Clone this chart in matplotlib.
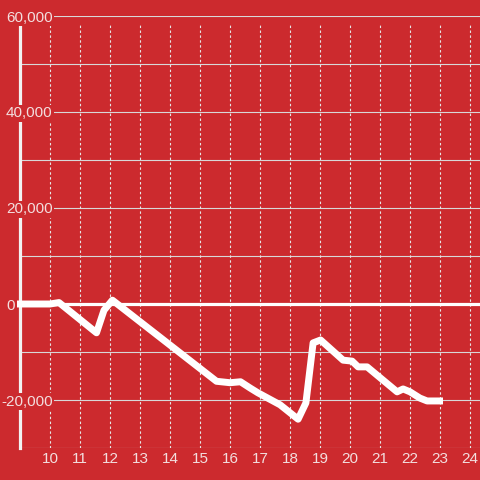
import matplotlib
matplotlib.use("Agg")
import matplotlib.pyplot as plt

# ---- data ----
hours = [8.9, 10.0, 10.3, 11.55, 11.8, 12.08, 15.55, 16.0, 16.35, 16.67, 16.93,
         17.67, 18.27, 18.53, 18.77, 19.02, 19.77, 20.07, 20.27, 20.57, 21.57,
         21.77, 22.0, 22.33, 22.57, 23.1]
values = [0, 0, 300, -6000, -1300, 800, -16100, -16400, -16200, -17500, -18500,
          -21000, -24000, -20600, -8100, -7500, -11700, -11900, -13100, -13100, -18300,
          -17700, -18300, -19600, -20200, -20200]
x_ticks = [10, 11, 12, 13, 14, 15, 16, 17, 18, 19, 20, 21, 22, 23, 24]
y_grid = [-30000, -20000, -10000, 0, 10000, 20000, 30000, 40000, 50000, 60000]
y_labels = [-20000, 0, 20000, 40000, 60000]

RED = "#cc2a2e"
LABEL = "#f3dede"
plt.rcParams["font.family"] = ["Liberation Sans", "DejaVu Sans"]

W, H = 480, 480
fig = plt.figure(figsize=(4.8, 4.8), dpi=100, facecolor=RED)
ax = fig.add_axes([20 / W, 32 / H, 460 / W, 432 / H])
ax.set_facecolor(RED)
ax.set_xlim(9.0, 24.333)
ax.set_ylim(-30000, 60000)

# horizontal grid
for v in y_grid:
    ax.axhline(v, color="#d8d8d8", lw=0.8, zorder=1)
# vertical dotted grid
ax.vlines(x_ticks, -30000, 58400, colors="#e6e6e6", lw=0.8,
          linestyles=(0, (2.2, 2.2)), zorder=1)
# zero line
ax.hlines(0, 8.9, 24.333, colors="white", lw=2.3, zorder=2, clip_on=False)

# spines
for s in ["top", "right", "bottom"]:
    ax.spines[s].set_visible(False)
ax.spines["left"].set_color("#f2f2f2")
ax.spines["left"].set_linewidth(2.3)
ax.spines["left"].set_bounds(-30000, 58400)

# data line
ax.plot(hours, values, color="white", lw=5.0, solid_joinstyle="round",
        solid_capstyle="butt", zorder=5, clip_on=False)

# ticks
ax.set_xticks(x_ticks)
ax.set_xticklabels([str(t) for t in x_ticks])
ax.tick_params(axis="x", length=0, pad=3.2, labelsize=11, labelcolor=LABEL)
ax.set_yticks([])

# y labels (left aligned, minus sign hanging)
trans = ax.get_yaxis_transform()
for v in y_labels:
    txt = f"{v:,}".replace("\u2212", "-")
    px = 6 if v >= 0 else 1.0
    ax.text((px - 20) / 460, v, txt, transform=trans, ha="left", va="center_baseline",
            fontsize=11, color=LABEL, clip_on=False, zorder=4,
            bbox=dict(boxstyle="square,pad=0.08", fc=RED, ec="none"))

fig.savefig("out.png", dpi=100, facecolor=RED)
